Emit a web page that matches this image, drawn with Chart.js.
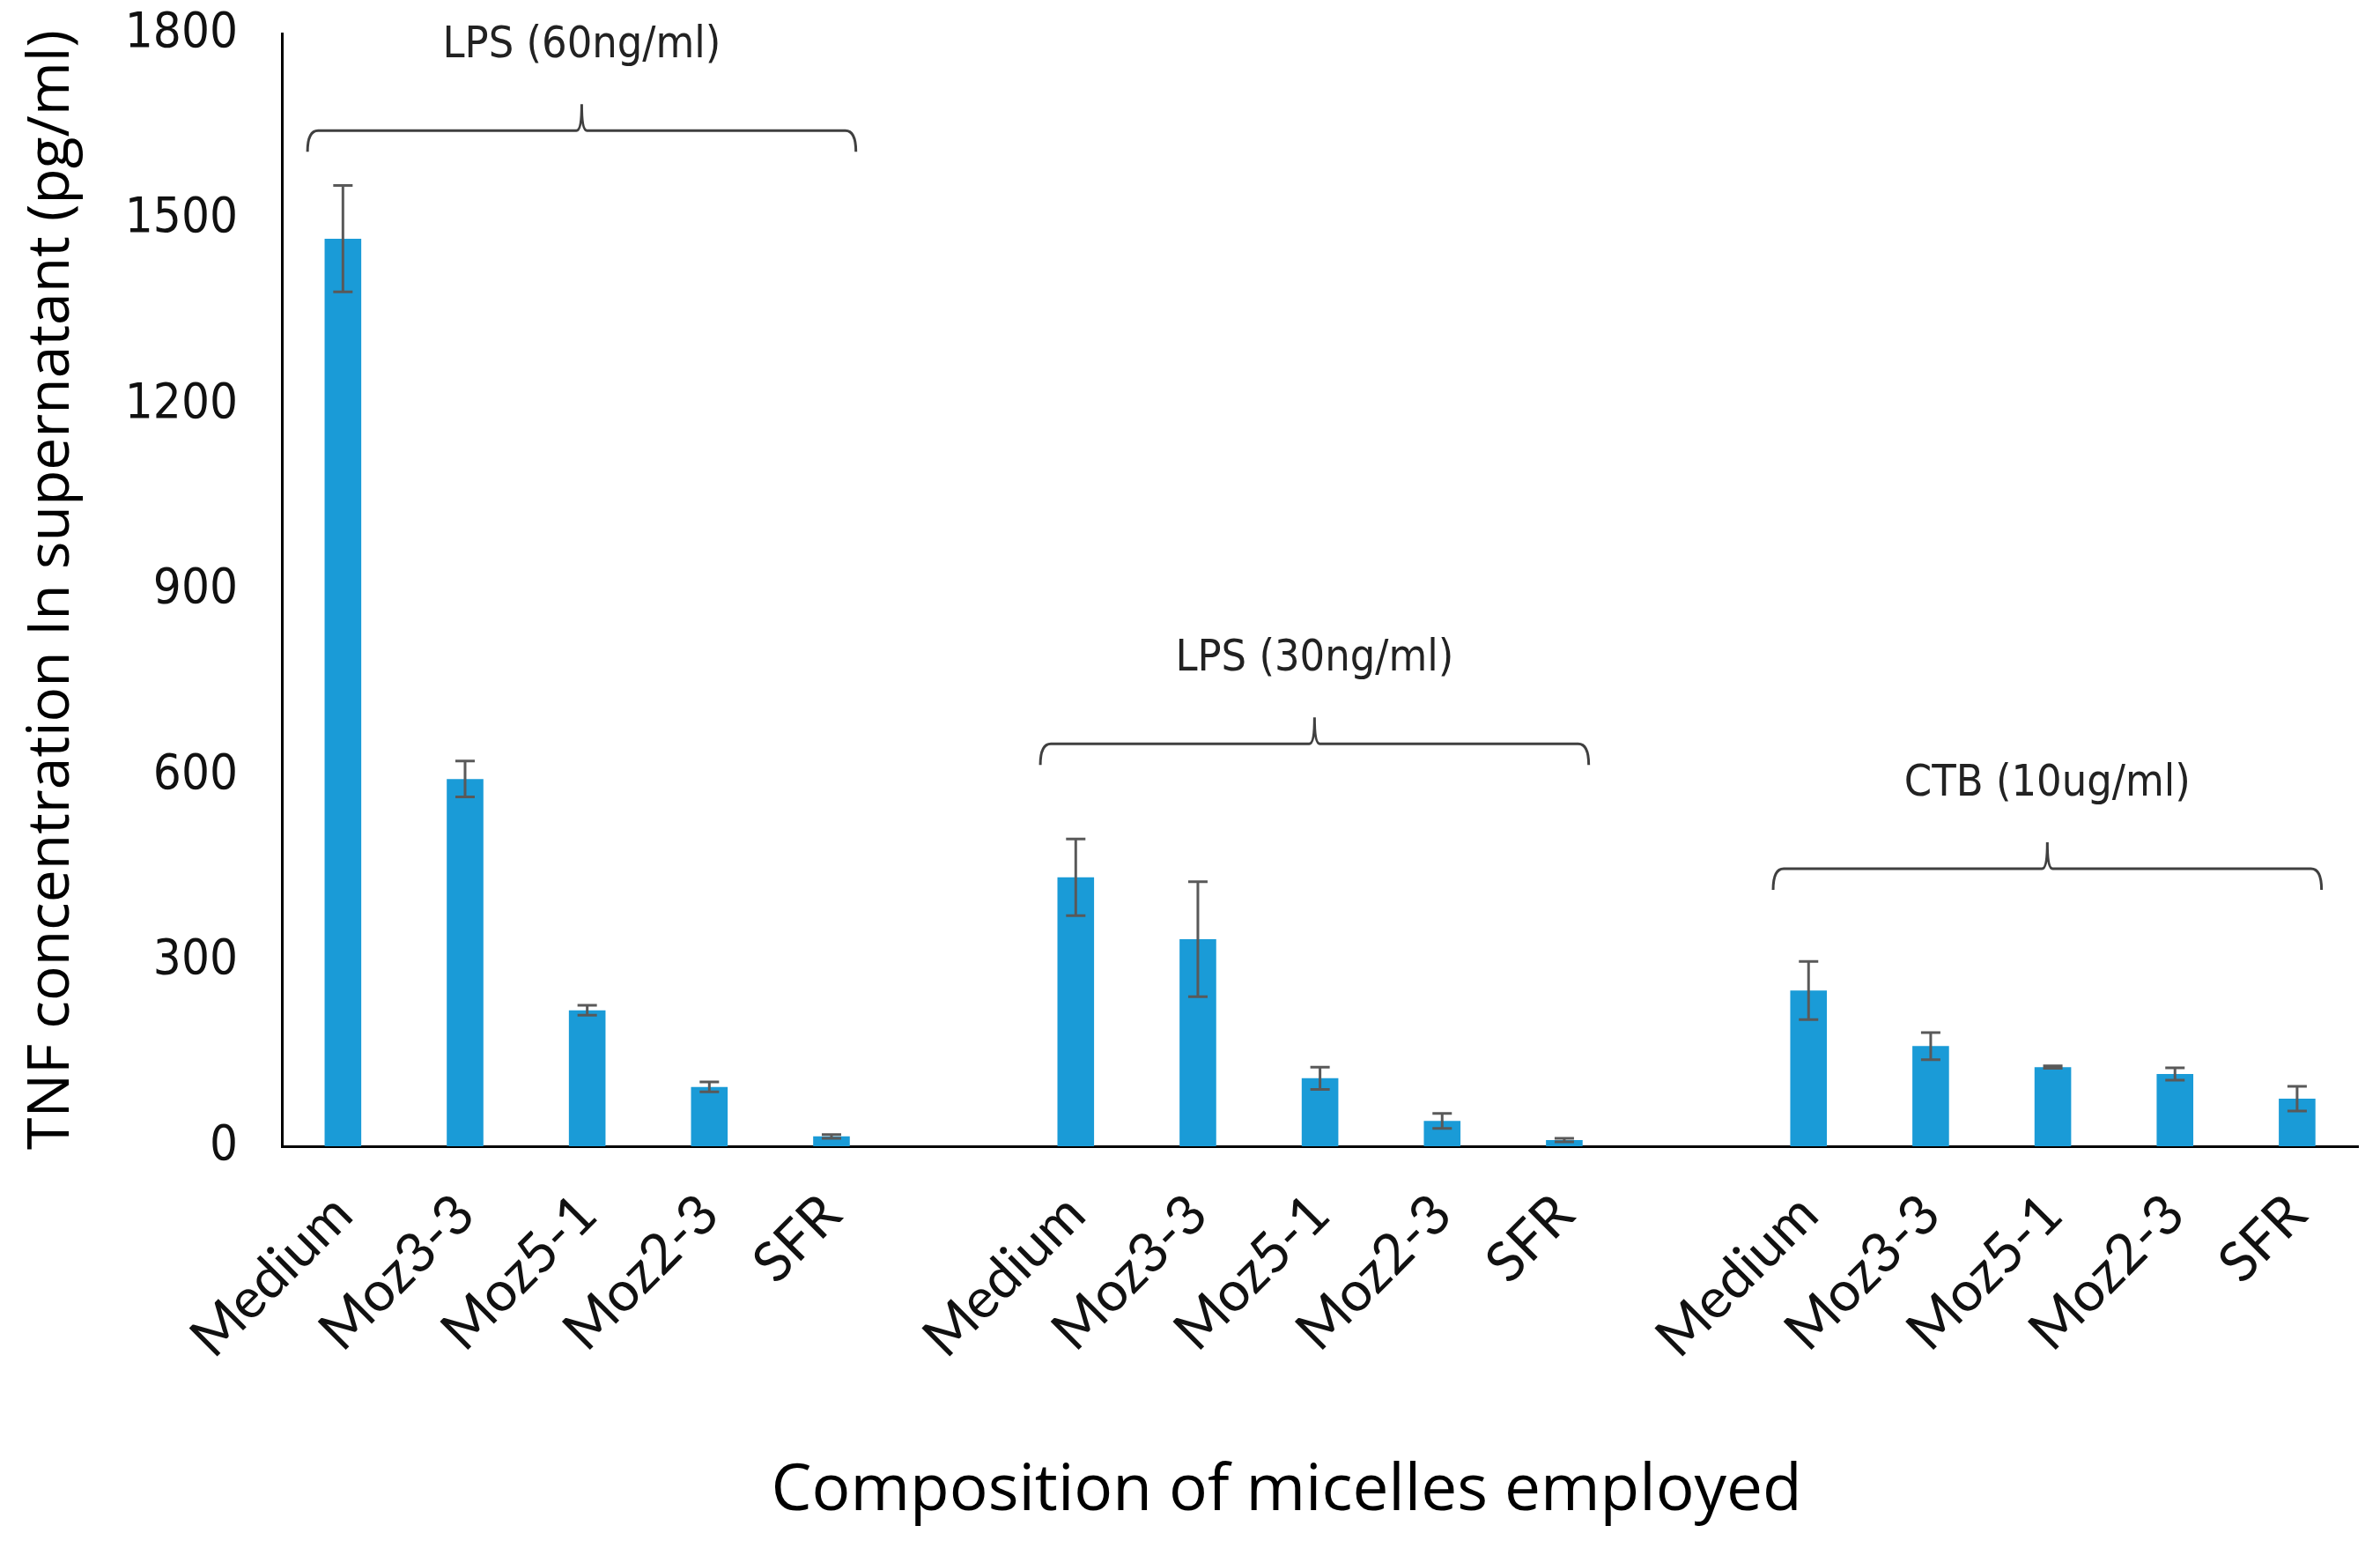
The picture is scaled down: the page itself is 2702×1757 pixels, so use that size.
<!DOCTYPE html>
<html>
<head>
<meta charset="utf-8">
<script src="https://cdn.jsdelivr.net/npm/chart.js@4.4.1/dist/chart.umd.min.js"></script>
<style>
  html, body { margin: 0; padding: 0; background: #fff; }
  #wrap { width: 2702px; height: 1757px; }
</style>
</head>
<body>
<div id="wrap"><canvas id="chart"></canvas></div>
<script>
const samples = ['Medium', 'Moz3-3', 'Moz5-1', 'Moz2-3', 'SFR']
const groups = ['LPS (60ng/ml)', 'LPS (30ng/ml)', 'CTB (10ug/ml)']
const lps60 = [1468, 594, 220, 96, 16]
const lps60Err = [86, 29, 8, 8, 3]
const lps30 = [435, 335, 110, 41, 10]
const lps30Err = [62, 93, 18, 12, 3]
const ctb10 = [252, 162, 128, 117, 77]
const ctb10Err = [47, 22, 2, 10, 20]
const yTicks = [0, 300, 600, 900, 1200, 1500, 1800]

// lay the three groups out on one category axis with an empty slot between them
const groupValues = [lps60, lps30, ctb10]
const groupErrors = [lps60Err, lps30Err, ctb10Err]
const labels = []
const values = []
const errors = []
groupValues.forEach((vals, g) => {
  if (g > 0) { labels.push(''); values.push(null); errors.push(null) }
  samples.forEach((s, i) => {
    labels.push(s)
    values.push(vals[i])
    errors.push(groupErrors[g][i])
  })
})

const narrow = '"DejaVu Sans Condensed", "Liberation Sans Narrow", Lato, sans-serif'

const errorBars = {
  id: 'errorBars',
  afterDatasetsDraw(chart) {
    const { ctx, scales: { y } } = chart
    const meta = chart.getDatasetMeta(0)
    ctx.save()
    ctx.strokeStyle = '#595959'
    ctx.lineWidth = 3
    meta.data.forEach((bar, i) => {
      const v = values[i], e = errors[i]
      if (v == null) return
      const top = y.getPixelForValue(v + e)
      const bot = y.getPixelForValue(v - e)
      ctx.beginPath()
      ctx.moveTo(bar.x, top); ctx.lineTo(bar.x, bot)
      ctx.moveTo(bar.x - 11, top); ctx.lineTo(bar.x + 11, top)
      ctx.moveTo(bar.x - 11, bot); ctx.lineTo(bar.x + 11, bot)
      ctx.stroke()
    })
    ctx.restore()
  }
}

const brackets = {
  id: 'brackets',
  afterDraw(chart, args, opts) {
    const { ctx, scales: { x, y } } = chart
    const step = x.getPixelForValue(1) - x.getPixelForValue(0)
    ctx.save()
    ctx.strokeStyle = '#404040'
    ctx.lineWidth = 3
    ctx.fillStyle = '#222'
    ctx.font = '50px ' + narrow
    ctx.textAlign = 'center'
    ctx.textBaseline = 'middle'
    groups.forEach((name, g) => {
      const first = g * (samples.length + 1)
      const xl = x.getPixelForValue(first) - step * 0.29
      const xr = x.getPixelForValue(first + samples.length - 1) + step * 0.2
      const xc = (xl + xr) / 2
      const yl = y.getPixelForValue(opts.levels[g])
      ctx.beginPath()
      ctx.moveTo(xl, yl + 24)
      ctx.quadraticCurveTo(xl, yl, xl + 12, yl)
      ctx.lineTo(xc - 6, yl)
      ctx.quadraticCurveTo(xc, yl, xc, yl - 30)
      ctx.quadraticCurveTo(xc, yl, xc + 6, yl)
      ctx.lineTo(xr - 12, yl)
      ctx.quadraticCurveTo(xr, yl, xr, yl + 24)
      ctx.stroke()
      ctx.fillText(name, xc, yl - 96)
    })
    ctx.restore()
  }
}

new Chart(document.getElementById('chart'), {
  type: 'bar',
  data: {
    labels,
    datasets: [{
      data: values,
      backgroundColor: '#1a9bd7',
      barPercentage: 0.3,
      categoryPercentage: 1
    }]
  },
  options: {
    responsive: true,
    maintainAspectRatio: false,
    animation: false,
    devicePixelRatio: 1,
    layout: { padding: { top: 38, right: 22, left: 0, bottom: 0 } },
    plugins: {
      legend: { display: false },
      tooltip: { enabled: false },
      brackets: { levels: [1643, 651, 449] }
    },
    scales: {
      x: {
        grid: { display: false, drawTicks: false },
        border: { color: '#000', width: 3 },
        ticks: {
          autoSkip: false, minRotation: 45, maxRotation: 45, padding: 40,
          color: '#111', font: { family: 'Lato, sans-serif', size: 63 }
        },
        title: {
          display: true,
          // trailing spaces nudge the centred title a little left, as in the original
          text: 'Composition of micelles employed\u00a0\u00a0\u00a0\u00a0',
          color: '#000',
          font: { family: '"Open Sans", sans-serif', size: 73 },
          padding: { top: 0, bottom: 20 }
        },
        afterFit(scale) { scale.height = 456 }
      },
      y: {
        min: 0, max: 1800,
        afterBuildTicks(scale) { scale.ticks = yTicks.map(v => ({ value: v })) },
        grid: { display: false, drawTicks: false },
        border: { color: '#000', width: 3 },
        ticks: {
          padding: 50, color: '#111', font: { family: narrow, size: 56 },
          callback: v => String(v)
        },
        title: {
          display: true, text: 'TNF concentration In supernatant (pg/ml)', color: '#000',
          font: { family: '"Open Sans", sans-serif', size: 66 },
          padding: { top: 20, bottom: 0 }
        },
        afterFit(scale) {
          scale.width = 320
          scale.paddingTop = 0
          scale.paddingBottom = 0
        }
      }
    }
  },
  plugins: [errorBars, brackets]
})
</script>
</body>
</html>
